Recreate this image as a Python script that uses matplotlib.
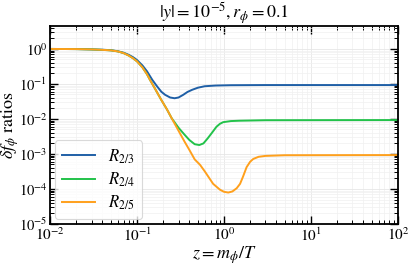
import matplotlib
matplotlib.use("Agg")
import matplotlib.pyplot as plt
from matplotlib.ticker import LogLocator, NullFormatter

plt.rcParams['font.family'] = 'serif'
plt.rcParams['font.serif'] = ['STIXGeneral', 'DejaVu Serif']
plt.rcParams['mathtext.fontset'] = 'stix'

# --- data ---
z_blue = [0.01, 0.02, 0.03, 0.04, 0.05, 0.06, 0.07, 0.08, 0.09, 0.1, 0.115, 0.13,
          0.15, 0.17, 0.19, 0.21, 0.24, 0.27, 0.3, 0.34, 0.38, 0.43, 0.5, 0.6,
          0.8, 1.2, 3.0, 100.0]
r23 = [1.0, 0.99, 0.97, 0.95, 0.92, 0.86, 0.78, 0.68, 0.58, 0.48, 0.34, 0.23,
       0.13, 0.085, 0.06, 0.049, 0.041, 0.039, 0.041, 0.049, 0.059, 0.068, 0.078, 0.086,
       0.09, 0.092, 0.093, 0.093]

z_green = [0.01, 0.02, 0.03, 0.04, 0.05, 0.06, 0.07, 0.08, 0.09, 0.1, 0.115, 0.13,
           0.141, 0.16, 0.19, 0.22, 0.25, 0.3, 0.35, 0.4, 0.46, 0.52, 0.58, 0.65,
           0.72, 0.82, 0.9, 0.98, 1.2, 1.5, 3.0, 100.0]
r24 = [1.0, 0.99, 0.97, 0.94, 0.91, 0.85, 0.76, 0.65, 0.54, 0.44, 0.3, 0.19,
       0.13, 0.075, 0.035, 0.019, 0.0105, 0.0056, 0.0036, 0.0025, 0.0019, 0.0018, 0.002, 0.0028,
       0.0039, 0.006, 0.0073, 0.0081, 0.0087, 0.0089, 0.0092, 0.0093]

z_orange = [0.01, 0.02, 0.03, 0.04, 0.05, 0.06, 0.07, 0.08, 0.09, 0.1, 0.115, 0.13,
            0.141, 0.16, 0.19, 0.22, 0.25, 0.3, 0.35, 0.4, 0.46, 0.53, 0.6, 0.75,
            0.9, 1.0, 1.12, 1.25, 1.4, 1.53, 1.65, 1.82, 2.0, 2.17, 2.5, 3.0, 5.0, 100.0]
r25 = [1.0, 0.99, 0.97, 0.94, 0.91, 0.85, 0.76, 0.65, 0.54, 0.44, 0.3, 0.19,
       0.13, 0.075, 0.035, 0.019, 0.0105, 0.0046, 0.0023, 0.0013, 0.0007, 0.00049, 0.00032, 0.00014,
       0.000095, 0.000083, 0.000079, 0.000085, 0.000105, 0.00014, 0.00022, 0.00042, 0.0006, 0.00072,
       0.00083, 0.00088, 0.00092, 0.00093]

labels = [r'$R_{2/3}$', r'$R_{2/4}$', r'$R_{2/5}$']
colors = ['#1f5fa6', '#22c24a', '#ffa01c']

fig = plt.figure(figsize=(4.11, 2.66), dpi=100)
ax = fig.add_axes([0.122, 0.158, 0.846, 0.744])

ax.plot(z_blue, r23, color=colors[0], lw=1.4, label=labels[0])
ax.plot(z_green, r24, color=colors[1], lw=1.4, label=labels[1])
ax.plot(z_orange, r25, color=colors[2], lw=1.4, label=labels[2])

ax.set_xscale('log')
ax.set_yscale('log')
ax.set_xlim(1e-2, 1e2)
ax.set_ylim(1e-5, 4.5)

ax.xaxis.set_major_locator(LogLocator(base=10, numticks=10))
ax.xaxis.set_minor_locator(LogLocator(base=10, subs=range(2, 10), numticks=50))
ax.yaxis.set_major_locator(LogLocator(base=10, numticks=10))
ax.yaxis.set_minor_locator(LogLocator(base=10, subs=range(2, 10), numticks=50))
ax.xaxis.set_minor_formatter(NullFormatter())
ax.yaxis.set_minor_formatter(NullFormatter())

ax.tick_params(which='both', direction='in', top=True, right=True, pad=2)
ax.tick_params(axis='x', labelsize=11)
ax.tick_params(axis='y', labelsize=10.5)
ax.tick_params(which='major', length=6, width=1.0)
ax.tick_params(which='minor', length=3, width=0.7)
for s in ax.spines.values():
    s.set_linewidth(1.3)

ax.grid(True, which='major', color='#e6e6e6', lw=0.6)
ax.grid(True, which='minor', color='#f0f0f0', lw=0.5)
ax.set_axisbelow(True)

ax.set_title(r'$|y| = 10^{-5}, r_\phi = 0.1$', fontsize=13, pad=2)
ax.set_xlabel(r'$z = m_\phi/T$', fontsize=13, labelpad=0)
ax.set_ylabel(r'$\delta f_\phi$ ratios', fontsize=13)
ax.yaxis.set_label_coords(-0.085, 0.5)

leg = ax.legend(loc='lower left', fontsize=12, frameon=True, fancybox=True,
                handlelength=2.0, borderaxespad=0.3, labelspacing=0.3)
leg.get_frame().set_edgecolor('#d0d0d0')
leg.get_frame().set_linewidth(0.8)

fig.savefig('out.png', dpi=100)
